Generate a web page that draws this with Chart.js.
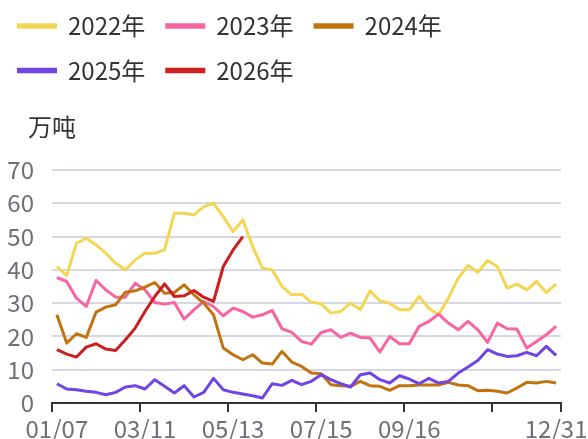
<!DOCTYPE html>
<html>
<head>
<meta charset="utf-8">
<script src="https://cdn.jsdelivr.net/npm/chart.js@4.4.1/dist/chart.umd.min.js"></script>
<style>
  html, body { margin: 0; padding: 0; background: #fff; overflow: hidden; }
  canvas { display: block; }
</style>
</head>
<body>
<canvas id="chart" width="588" height="439"></canvas>
<script>
// week labels (one per band)
const weeks = [
  "01/07", "01/14", "01/21", "01/28", "02/04", "02/11", "02/18", "02/25", "03/04", "03/11",
  "03/18", "03/25", "04/01", "04/08", "04/15", "04/22", "04/29", "05/06", "05/13", "05/20",
  "05/27", "06/03", "06/10", "06/17", "06/24", "07/01", "07/08", "07/15", "07/22", "07/29",
  "08/05", "08/12", "08/19", "08/26", "09/02", "09/09", "09/16", "09/23", "09/30", "10/07",
  "10/14", "10/21", "10/28", "11/04", "11/11", "11/18", "11/25", "12/02", "12/09", "12/16",
  "12/23", "12/31"
];
const labelIndex = [0, 9, 18, 27, 36, 51]; // which week labels are shown
const tickIndex = [0, 9, 18, 27, 36, 45]; // tick marks (plus the right edge)

const y2022 = [41, 38.3, 48, 49.5, 47.5, 45, 42, 40, 43, 45, 45, 46, 57, 57, 56.5, 59, 60, 56, 51.5, 55,
  47, 40.5, 40, 35, 32.5, 32.7, 30.3, 29.8, 27, 27.5, 30, 28, 33.7, 30.7, 30, 28, 28, 32, 28.5, 26.5,
  31.5, 37.5, 41.3, 39.3, 42.8, 41, 34.5, 35.7, 34, 36.5, 33.2, 35.7];
const y2023 = [37.7, 36.5, 31.5, 29, 36.8, 34, 31.8, 31.8, 36, 34, 30.2, 29.7, 30.2, 25.2, 28, 30.5, 29, 26.2, 28.5, 27.5,
  25.8, 26.5, 27.8, 22.3, 21.2, 18.5, 17.7, 21.2, 22, 19.7, 21, 19.7, 19.5, 15.3, 20, 17.8, 17.8, 23, 24.5, 26.7,
  24, 22, 24.5, 22, 18.2, 24, 22.3, 22.2, 16.5, 18.5, 20.5, 23];
const y2024 = [26.5, 18, 20.8, 19.7, 27.3, 28.8, 29.5, 33.3, 33.7, 34.8, 36.2, 33, 33.2, 35.5, 32.5, 30, 26.5, 16.5, 14.5, 13,
  14.5, 12, 11.7, 15.5, 12.3, 11, 9, 8.8, 5.5, 5.2, 5, 6.5, 5.2, 5, 3.8, 5.2, 5.2, 5.4, 5.4, 5.4,
  6.2, 5.4, 5.2, 3.7, 3.8, 3.5, 3, 4.5, 6.2, 6, 6.5, 6];
const y2025 = [5.8, 4.2, 4, 3.5, 3.2, 2.5, 3.2, 4.8, 5.2, 4.2, 7, 5, 3, 5.2, 1.8, 3.2, 7.4, 4, 3.2, 2.7,
  2.2, 1.5, 5.8, 5.3, 6.8, 5.5, 6.5, 8.5, 7, 5.8, 4.8, 8.5, 9, 7, 6, 8.2, 7.2, 5.8, 7.4, 6,
  6.5, 9, 10.8, 12.8, 16, 14.7, 14, 14.2, 15.2, 14.2, 17, 14.3];
const y2026 = [16, 14.7, 13.8, 16.8, 17.8, 16.2, 15.8, 19, 22.5, 27.5, 32, 35.8, 32, 32.2, 33.8, 31.8, 30.5, 41, 46, 50];

const seriesNames = ["2022年", "2023年", "2024年", "2025年", "2026年"];
const seriesColors = ["#f4d655", "#f765a3", "#c0730f", "#7144e4", "#cc1f1f"];
const seriesData = [y2022, y2023, y2024, y2025, y2026];

const FONT = '"Noto Sans CJK SC", "Noto Sans", sans-serif';

// legend rows + unit label drawn by hand so the spacing matches
const yearLegend = {
  id: "yearLegend",
  afterDraw(chart) {
    const ctx = chart.ctx;
    ctx.save();
    ctx.font = "24px " + FONT;
    ctx.textBaseline = "middle";
    ctx.textAlign = "left";
    let x = 17, y = 26;
    chart.data.datasets.forEach((ds, i) => {
      if (i === 3) { x = 17; y = 70.5; } // second row
      ctx.fillStyle = ds.borderColor;
      ctx.fillRect(x, y - 2.75, 40, 5.5);
      ctx.fillStyle = "#333";
      ctx.fillText(ds.label, x + 51, y);
      x += 51 + ctx.measureText(ds.label).width + 20;
    });
    ctx.fillText("万吨", 28, 127);
    ctx.restore();
  }
};

new Chart(document.getElementById("chart"), {
  type: "line",
  data: {
    labels: weeks,
    datasets: seriesNames.map((name, i) => ({
      label: name,
      data: seriesData[i],
      borderColor: seriesColors[i],
      backgroundColor: seriesColors[i],
      order: 4 - i, // later years on top
    })),
  },
  options: {
    responsive: false,
    animation: false,
    layout: { padding: { top: 170, right: 27, left: 0, bottom: 0 } },
    elements: {
      point: { radius: 0 },
      line: { borderWidth: 3, tension: 0, borderJoinStyle: "round" },
    },
    plugins: {
      legend: { display: false },
      tooltip: { enabled: false },
    },
    scales: {
      x: {
        offset: true,
        grid: {
          offset: true,
          drawOnChartArea: false,
          tickLength: 9,
          lineWidth: 2,
          color: (c) => (c.index === undefined || tickIndex.includes(c.index)) ? "#333" : "transparent",
        },
        border: { color: "#333", width: 2 },
        ticks: {
          autoSkip: false,
          maxRotation: 0,
          minRotation: 0,
          padding: 2,
          color: "#6e7079",
          font: { size: 24, family: FONT },
          callback: (v, i) => labelIndex.includes(i) ? weeks[i] : "",
        },
        afterFit: (s) => { s.height = 36; s.paddingLeft = 0; s.paddingRight = 0; },
      },
      y: {
        min: 0,
        max: 70,
        ticks: {
          stepSize: 10,
          padding: 18,
          color: "#6e7079",
          font: { size: 24, family: FONT },
        },
        grid: {
          drawTicks: false,
          lineWidth: 2,
          color: (c) => c.tick && c.tick.value === 0 ? "transparent" : "#d6d9e4",
        },
        border: { display: false },
        afterFit: (s) => { s.width = 52; s.paddingTop = 0; s.paddingBottom = 0; },
      },
    },
  },
  plugins: [yearLegend],
});
</script>
</body>
</html>
